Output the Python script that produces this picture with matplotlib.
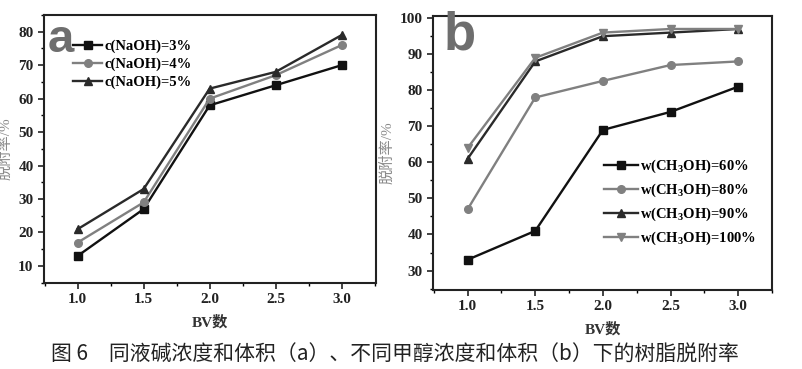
import numpy as np
import matplotlib
matplotlib.use("Agg")
import matplotlib.pyplot as plt
from matplotlib.ticker import MultipleLocator

plt.rcParams['font.family'] = ['Liberation Serif', 'Noto Sans CJK SC']
plt.rcParams['font.weight'] = 'bold'
plt.rcParams['mathtext.fontset'] = 'custom'
plt.rcParams['mathtext.rm'] = 'Liberation Serif:bold'
plt.rcParams['mathtext.default'] = 'rm'

# data
bv = [1.0, 1.5, 2.0, 2.5, 3.0]

naoh_labels = ['c(NaOH)=3%', 'c(NaOH)=4%', 'c(NaOH)=5%']
naoh_3 = [13, 27, 58, 64, 70]
naoh_4 = [17, 29, 60, 67, 76]
naoh_5 = [21, 33, 63, 68, 79]

meoh_labels = ['w(CH$_3$OH)=60%', 'w(CH$_3$OH)=80%',
               'w(CH$_3$OH)=90%', 'w(CH$_3$OH)=100%']
meoh_60 = [33, 41, 69, 74, 81]
meoh_80 = [47, 78, 82.6, 87, 88]
meoh_90 = [61, 88, 95, 96, 97]
meoh_100 = [64, 89, 96, 97, 97]

ylabel = '脱附率/%'
xlabel = 'BV数'
caption = '图 6　同液碱浓度和体积（a）、不同甲醇浓度和体积（b）下的树脂脱附率'

fig = plt.figure(figsize=(8.03, 3.69), dpi=100)
W, H = 803, 369
ax1 = fig.add_axes([44 / W, 1 - 283 / H, 332 / W, 268 / H])
ax2 = fig.add_axes([433 / W, 1 - 290 / H, 339 / W, 274 / H])

black = '#111111'
dark = '#2a2a2a'
gray = '#808080'

def style(ax):
    for s in ax.spines.values():
        s.set_linewidth(1.5)
        s.set_color('#222222')
    ax.xaxis.set_major_locator(MultipleLocator(0.5))
    ax.xaxis.set_minor_locator(MultipleLocator(0.25))
    ax.yaxis.set_major_locator(MultipleLocator(10))
    ax.yaxis.set_minor_locator(MultipleLocator(5))
    ax.tick_params(which='major', direction='out', length=4, width=1.2,
                   labelsize=11, colors='#222222', top=False, right=False)
    ax.tick_params(which='minor', direction='out', length=2.5, width=1.0,
                   top=False, right=False)
    for lab in ax.get_xticklabels() + ax.get_yticklabels():
        lab.set_fontweight('bold')

# panel a
ax1.plot(bv, naoh_3, color=black, marker='s', ms=5.5, lw=1.7, label=naoh_labels[0])
ax1.plot(bv, naoh_4, color=gray, marker='o', ms=5.5, lw=1.7, label=naoh_labels[1])
ax1.plot(bv, naoh_5, color=dark, marker='^', ms=6, lw=1.7, label=naoh_labels[2])
ax1.set_xlim(0.745, 3.26)
ax1.set_ylim(4.9, 85)
style(ax1)
ax1.legend(loc='upper left', bbox_to_anchor=(0.07, 0.93), frameon=False,
           prop={'size': 10.5, 'weight': 'bold'}, handlelength=2.0,
           handletextpad=0.15, labelspacing=0.3, borderaxespad=0)
ax1.text(0.01, 0.99, 'a', transform=ax1.transAxes, fontsize=34,
         fontweight='bold', color='#6e6e6e', family='Liberation Sans',
         va='top', ha='left')
ax1.set_xlabel(xlabel, fontsize=11, fontweight='bold', color='#333333', labelpad=6)
ax1.set_ylabel(ylabel, fontsize=11, color='#8a8a8a', labelpad=4)

# panel b
ax2.plot(bv, meoh_60, color=black, marker='s', ms=5.5, lw=1.7, label=meoh_labels[0])
ax2.plot(bv, meoh_80, color=gray, marker='o', ms=5.5, lw=1.7, label=meoh_labels[1])
ax2.plot(bv, meoh_90, color=dark, marker='^', ms=6, lw=1.7, label=meoh_labels[2])
ax2.plot(bv, meoh_100, color=gray, marker='v', ms=6, lw=1.7, label=meoh_labels[3])
ax2.set_xlim(0.744, 3.25)
ax2.set_ylim(24.6, 100.6)
style(ax2)
ax2.legend(loc='lower right', bbox_to_anchor=(0.97, 0.135), frameon=False,
           prop={'size': 10.5, 'weight': 'bold'}, handlelength=2.3,
           handletextpad=0.15, labelspacing=0.45, borderaxespad=0)
ax2.text(0.03, 1.02, 'b', transform=ax2.transAxes, fontsize=38,
         fontweight='bold', color='#6e6e6e', family='Liberation Sans',
         va='top', ha='left')
ax2.set_xlabel(xlabel, fontsize=11, fontweight='bold', color='#333333', labelpad=6)
ax2.set_ylabel(ylabel, fontsize=11, color='#8a8a8a', labelpad=4)

fig.text(0.492, 1 - 355 / H, caption, ha='center', va='center', fontsize=15,
         fontweight='normal', family=['Noto Sans CJK SC', 'DejaVu Sans'],
         color='#222222')

fig.savefig('out.png', dpi=100)
